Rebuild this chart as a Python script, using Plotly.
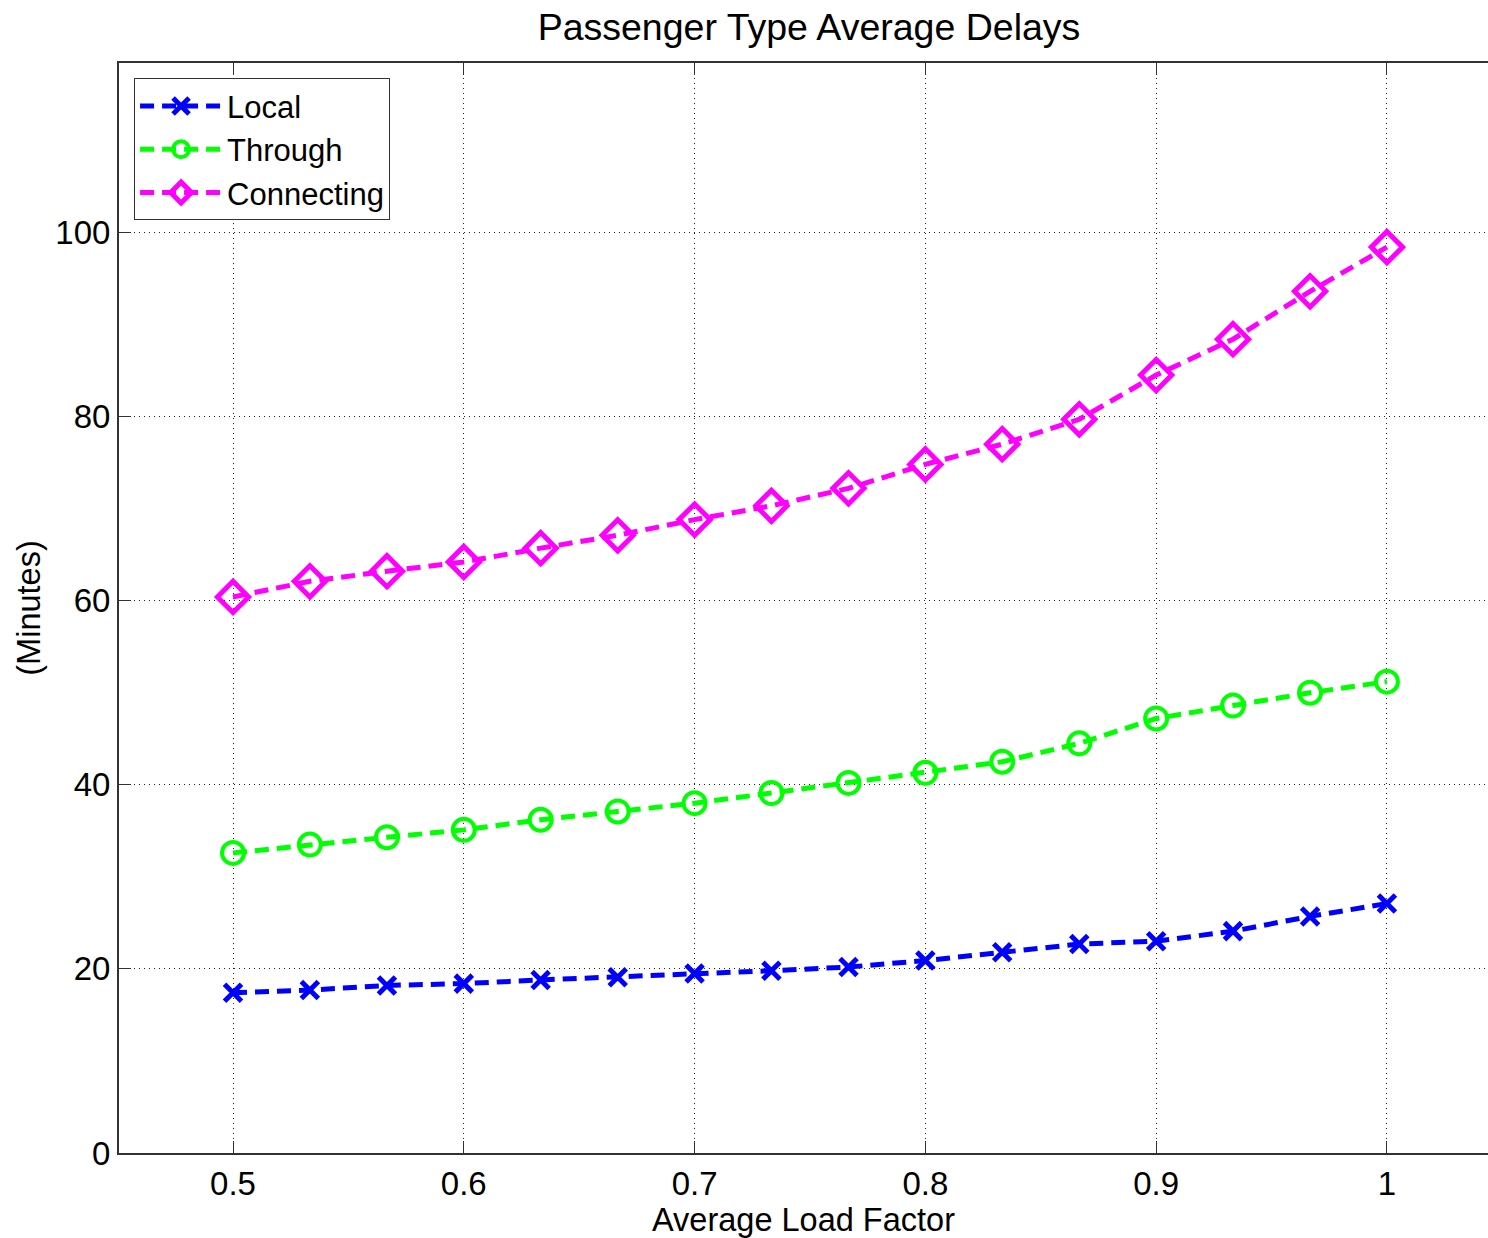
import plotly.graph_objects as go

load_factor = [0.5, 0.5333, 0.5667, 0.6, 0.6333, 0.6667, 0.7, 0.7333, 0.7667, 0.8,
               0.8333, 0.8667, 0.9, 0.9333, 0.9667, 1.0]
local = [17.4, 17.7, 18.2, 18.4, 18.8, 19.1, 19.5, 19.8, 20.2, 20.9,
         21.8, 22.7, 23.0, 24.1, 25.7, 27.1]
through = [32.6, 33.5, 34.3, 35.1, 36.2, 37.1, 38.0, 39.1, 40.2, 41.3,
           42.5, 44.5, 47.2, 48.6, 50.0, 51.2]
connecting = [60.4, 62.1, 63.2, 64.2, 65.7, 67.1, 68.8, 70.3, 72.2, 74.8,
              77.0, 79.7, 84.5, 88.4, 93.6, 98.4]
x_ticks = [0.5, 0.6, 0.7, 0.8, 0.9, 1.0]
x_tick_labels = ["0.5", "0.6", "0.7", "0.8", "0.9", "1"]
y_ticks = [0, 20, 40, 60, 80, 100]

FONT = "Liberation Sans, Arial, sans-serif"
DASH = "14px,8px"

fig = go.Figure()
fig.add_trace(go.Scatter(
    x=load_factor, y=local, name="Local", mode="lines+markers",
    line=dict(color="#0000ff", width=5, dash=DASH),
    marker=dict(symbol="x-thin", size=17, color="#0000ff",
                line=dict(color="#0000ff", width=5)),
))
fig.add_trace(go.Scatter(
    x=load_factor, y=through, name="Through", mode="lines+markers",
    line=dict(color="#00ff00", width=5, dash=DASH),
    marker=dict(symbol="circle-open", size=22, color="#00ff00",
                line=dict(color="#00ff00", width=4)),
))
fig.add_trace(go.Scatter(
    x=load_factor, y=connecting, name="Connecting", mode="lines+markers",
    line=dict(color="#ff00ff", width=5, dash=DASH),
    marker=dict(symbol="diamond-open", size=24, color="#ff00ff",
                line=dict(color="#ff00ff", width=5)),
))

fig.update_layout(
    width=1488, height=1238,
    margin=dict(l=119, r=0, t=63, b=85),
    paper_bgcolor="white", plot_bgcolor="white",
    font=dict(family=FONT, size=33, color="black"),
    title=dict(text="Passenger Type Average Delays", x=(538 + 1080) / 2 / 1488,
               xanchor="center", y=1 - 27 / 1238, yanchor="middle",
               font=dict(family=FONT, size=37.5, color="black")),
    showlegend=True,
    legend=dict(x=0.011, y=0.986, xanchor="left", yanchor="top",
                bgcolor="white", bordercolor="#333333", borderwidth=1,
                font=dict(family=FONT, size=31, color="black"),
                tracegroupgap=0, itemwidth=82),
)
fig.update_xaxes(
    range=[0.4506, 1.0438], tickvals=x_ticks, ticktext=x_tick_labels,
    showgrid=True, gridcolor="#222222", gridwidth=1, griddash="1px,4px",
    showline=True, linecolor="#333333", linewidth=2, mirror="allticks",
    ticks="inside", ticklen=12, tickcolor="#333333",
    zeroline=False, tickfont=dict(size=33),
    title=dict(text="Average Load Factor", standoff=4,
               font=dict(family=FONT, size=32.5)),
)
fig.update_yaxes(
    range=[0, 118.4], tickvals=y_ticks,
    showgrid=True, gridcolor="#222222", gridwidth=1, griddash="1px,4px",
    showline=True, linecolor="#333333", linewidth=2, mirror=False,
    ticks="inside", ticklen=12, tickcolor="#333333",
    zeroline=False, tickfont=dict(size=33),
    title=dict(text="(Minutes)", standoff=5,
               font=dict(family=FONT, size=32.5)),
)

fig.write_html(
    "out.html",
    config={"displayModeBar": False},
    post_script="document.body.style.margin='0';document.body.style.overflow='hidden';",
)
